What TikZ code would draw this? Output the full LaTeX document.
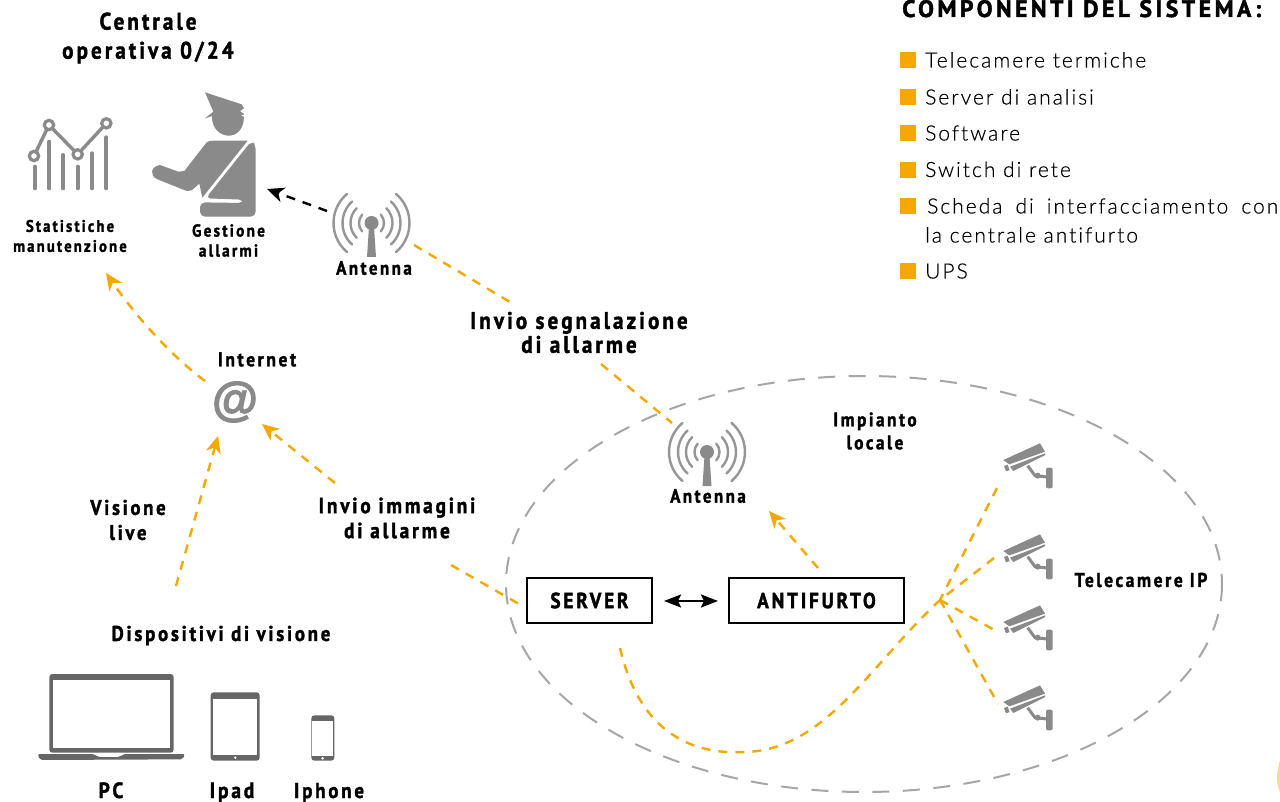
\documentclass[tikz,border=0pt]{standalone}
\usepackage{fontspec}
\usetikzlibrary{arrows.meta}
\newfontfamily\labf[LetterSpace=13,FakeStretch=.88,BoldFeatures={FakeBold=1.6}]{PT Sans}
\newfontfamily\bodyf[LetterSpace=9.5,Ligatures=NoCommon,FakeBold=.35]{Lato Light}
\newfontfamily\atf[BoldFeatures={FakeBold=2.5}]{Liberation Sans}
\definecolor{org}{HTML}{F5A800}
\definecolor{icon}{HTML}{8A8A8A}
\definecolor{ring}{HTML}{A6A6A6}
\definecolor{dev}{HTML}{666666}
\newcommand{\fs}[2]{\fontsize{#1}{#2}\selectfont}
\tikzset{
  lab/.style n args={2}{inner sep=0pt,align=center,text=black,font=\labf\bfseries\fs{#1}{#2}},
  listtxt/.style={inner sep=0pt,anchor=base west,font=\bodyf\fs{21}{25}},
  bullet/.style={fill=org,draw=none,minimum size=16pt,inner sep=0pt},
  boxnode/.style={draw=black,line width=2.2pt,inner sep=0pt,font=\labf\bfseries\fs{21.8}{23}},
  ordash/.style={draw=org,line width=2.4pt,dash pattern=on 9pt off 8pt},
  ortip/.style={-{Stealth[length=17pt,width=15pt,inset=5pt]}},
  antennapic/.pic={
    \foreach \r/\a in {38/50,29/48,21/45,12.5/42}{
      \draw[line width=2.4pt,color=icon!90,line cap=round] (\a:\r) arc[start angle=\a,end angle=-\a,radius=\r];
      \draw[line width=2.4pt,color=icon!90,line cap=round] (180-\a:\r) arc[start angle=180-\a,end angle=180+\a,radius=\r];
    }
    \fill[icon] (0,0) circle[radius=7];
    \fill[icon] (-2.5,4) -- (2.5,4) -- (4.5,34) -- (-4.5,34) -- cycle;
  },
  camerapic/.pic={
    \begin{scope}[scale=1/3]
    \fill[icon] (40,75) -- (150,25) -- (165,50) -- (58,88) -- cycle;
    \fill[icon] (60,95) -- (165,55) -- (166,60) -- (70,108) -- cycle;
    \fill[icon] (42,93) -- (53,89) -- (59,105) -- (48,109) -- cycle;
    \draw[icon,line width=3pt] (113,92) -- (135,122) -- (172,126);
    \fill[icon] (143,122) circle[radius=9];
    \fill[icon,rounded corners=2pt] (168,98) rectangle (188,160);
    \end{scope}
  },
}
\begin{document}
\begin{tikzpicture}[x=1pt,y=-1pt]
\useasboundingbox (0,0) rectangle (1280,802);
\fill[white] (0,0) rectangle (1280,802);

% local-plant ring
\draw[ring,line width=2pt,dash pattern=on 17pt off 13.5pt] (864,584) ellipse[x radius=358,y radius=208];

% officer
\begin{scope}[shift={(145,85)},scale=1/3,icon]
\fill (180,22) -- (290,58) -- (297,70) -- (285,78) -- (298,88) -- (270,98) -- (205,92) -- (180,100) -- (205,80) -- cycle;
\fill (201,90) -- (286,90) -- (297,96) .. controls (295,175) and (205,165) .. (201,100) -- cycle;
\fill (205,167) -- (308,167) -- (172,338) -- (163,296) -- (140,316) -- (125,318) -- (35,282) .. controls (15,272) and (15,245) .. (45,240) -- (100,260) -- (118,258) -- (185,172) .. controls (190,168) and (197,167) .. cycle;
\fill[rounded corners=5pt] (320,167) -- (332,180) -- (332,395) -- (165,395) -- (165,352) -- (296,354) -- (296,344) -- (182,340) -- cycle;
\end{scope}

% chart
\begin{scope}[shift={(0,0)},scale=1/3]
\foreach \x/\t in {105/500,148/425,190/465,233/500,276/460,319/412}
  \draw[icon,line width=4pt,line cap=round] (\x,\t) -- (\x,565);
\draw[icon,line width=3.4pt] (102,468) -- (147,375) -- (233,463) -- (319,370);
\foreach \x/\y in {102/468,147/375,233/463,319/370}
  \draw[icon,fill=white,line width=3.2pt] (\x,\y) circle[radius=14];
\end{scope}

% laptop, tablet, phone
\begin{scope}[shift={(0,650)},scale=1/3]
\fill[dev,rounded corners=3pt] (148,72) rectangle (521,308);
\fill[white] (159,90) rectangle (511,293);
\fill[dev,rounded corners=2pt] (113,312) -- (283,312) -- (293,321) -- (360,321) -- (370,312) -- (555,312) -- (548,328) -- (120,330) -- cycle;
\fill[rounded corners=3pt,dev] (632,127) rectangle (779,332);
\fill[white] (639,147) rectangle (772,316);
\fill[white] (706,323) circle[radius=4];
\fill[rounded corners=3pt,dev] (934,196) rectangle (1003,332);
\fill[white] (937,212) rectangle (1000,317);
\fill[white] (968,325) circle[radius=4];
\end{scope}

% antennas and cameras
\pic (antA) at (371.5,223) {antennapic};
\pic (antB) at (707,452) {antennapic};
\pic (camA) at (990,435) {camerapic};
\pic (camB) at (990,526) {camerapic};
\pic (camC) at (990,597) {camerapic};
\pic (camD) at (990,677) {camerapic};

% at sign
\node[inner sep=0pt,text=icon,font=\atf\bfseries\fs{47}{50}] (at) at (235,402) {@};

% labels
\node[lab={23.9}{29}] (central) at (148,38) {Centrale\\operativa 0/24};
\node[lab={16.7}{20}] (stat) at (70,236) {Statistiche\\manutenzione};
\node[lab={17.3}{20}] (gest) at (228.5,240.5) {Gestione\\allarmi};
\node[lab={19.2}{20}] (antAl) at (374,268) {Antenna};
\node[lab={19.2}{20}] (antBl) at (708,496) {Antenna};
\node[lab={23.9}{24}] (segn) at (579,332.5) {Invio segnalazione\\di allarme};
\node[lab={19.9}{20}] (inet) at (257,359.5) {Internet};
\node[lab={21.2}{25}] (vis) at (128,520) {Visione\\live};
\node[lab={21.9}{25}] (imm) at (397,518) {Invio immagini\\di allarme};
\node[lab={21.4}{22}] (disp) at (221,635.5) {Dispositivi di visione};
\node[lab={22}{22},anchor=base] (pc) at (111,798) {PC};
\node[lab={22}{22},anchor=base] (ipad) at (232,798) {Ipad};
\node[lab={21.5}{22},anchor=base] (iphone) at (329,798) {Iphone};
\node[lab={19.5}{23}] (imp) at (875,431) {Impianto\\locale};
\node[lab={19.9}{20}] (tele) at (1141,580) {Telecamere IP};
\node[boxnode,minimum width=125pt,minimum height=45pt] (server) at (589.5,600.5) {\raisebox{-4pt}{SERVER}};
\node[boxnode,minimum width=175pt,minimum height=45pt] (anti) at (816.5,600.5) {\raisebox{-2pt}{ANTIFURTO}};

% connector ends
\coordinate (a1) at (327,211); \coordinate (a2) at (267,189);
\coordinate (b1) at (414,245); \coordinate (b2) at (515,305);
\coordinate (b3) at (601,364); \coordinate (b4) at (672,423);
\coordinate (c1) at (205,381); \coordinate (c2) at (106,273);
\coordinate (d1) at (176,586); \coordinate (d2) at (218,436);
\coordinate (e1) at (335,483); \coordinate (e2) at (262,424);
\coordinate (f1) at (451,565); \coordinate (f2) at (519,604);
\coordinate (g1) at (818,568); \coordinate (g2) at (769,511);
\coordinate (h1) at (620,648); \coordinate (h2) at (745,752);
\coordinate (hub) at (940,600);
\coordinate (k1) at (997,488); \coordinate (k2) at (994,558);
\coordinate (k3) at (998,632); \coordinate (k4) at (998,704);
\coordinate (s1) at (664,601); \coordinate (s2) at (718,601);

\draw[dash pattern=on 9pt off 8pt,line width=2.4pt,-{Stealth[length=17pt,width=15pt,inset=5pt]}] (a1) -- (a2);
\draw[ordash] (b1) -- (b2);
\draw[ordash] (b3) -- (b4);
\draw[ordash,ortip] (c1) .. controls (170,355) and (135,315) .. (c2);
\draw[ordash,ortip] (d1) -- (d2);
\draw[ordash,ortip] (e1) -- (e2);
\draw[ordash] (f1) -- (f2);
\draw[ordash,ortip] (g1) -- (g2);
\draw[ordash] (h1) .. controls (640,735) and (695,755) .. (h2) .. controls (825,750) and (870,665) .. (hub) -- (k2);
\draw[ordash] (k1) -- (hub);
\draw[ordash] (hub) -- (k3);
\draw[ordash] (hub) -- (k4);
\draw[line width=2.2pt,{Stealth[length=17pt,width=13pt,inset=3pt]}-{Stealth[length=17pt,width=13pt,inset=3pt]}] (s1) -- (s2);

% system list
\node[inner sep=0pt,anchor=base west,font=\labf\bfseries\fs{23.8}{26},xscale=1.13] (comp) at (902,17) {COMPONENTI DEL SISTEMA:};
\node[bullet] (b-1) at (908,60) {}; \node[listtxt] (t-1) at (925,67.5) {Telecamere termiche};
\node[bullet] (b-2) at (908,97) {}; \node[listtxt] (t-2) at (925,104.5) {Server di analisi};
\node[bullet] (b-3) at (908,133) {}; \node[listtxt] (t-3) at (925,140.5) {Software};
\node[bullet] (b-4) at (908,170) {}; \node[listtxt] (t-4) at (925,177) {Switch di rete};
\node[bullet] (b-5) at (908,206) {}; \node[listtxt] (t-5) at (927,213.5) {\makebox[351pt][s]{Scheda di interfacciamento con}};
\node[listtxt] (t-5b) at (925,242.5) {la centrale antifurto};
\node[bullet] (b-6) at (908,271) {}; \node[listtxt] (t-6) at (925,278.5) {UPS};

% sliver at the corner
\fill[org!45] (1280,760) .. controls (1276,775) and (1276,782) .. (1280,792) -- cycle;
\end{tikzpicture}
\end{document}
